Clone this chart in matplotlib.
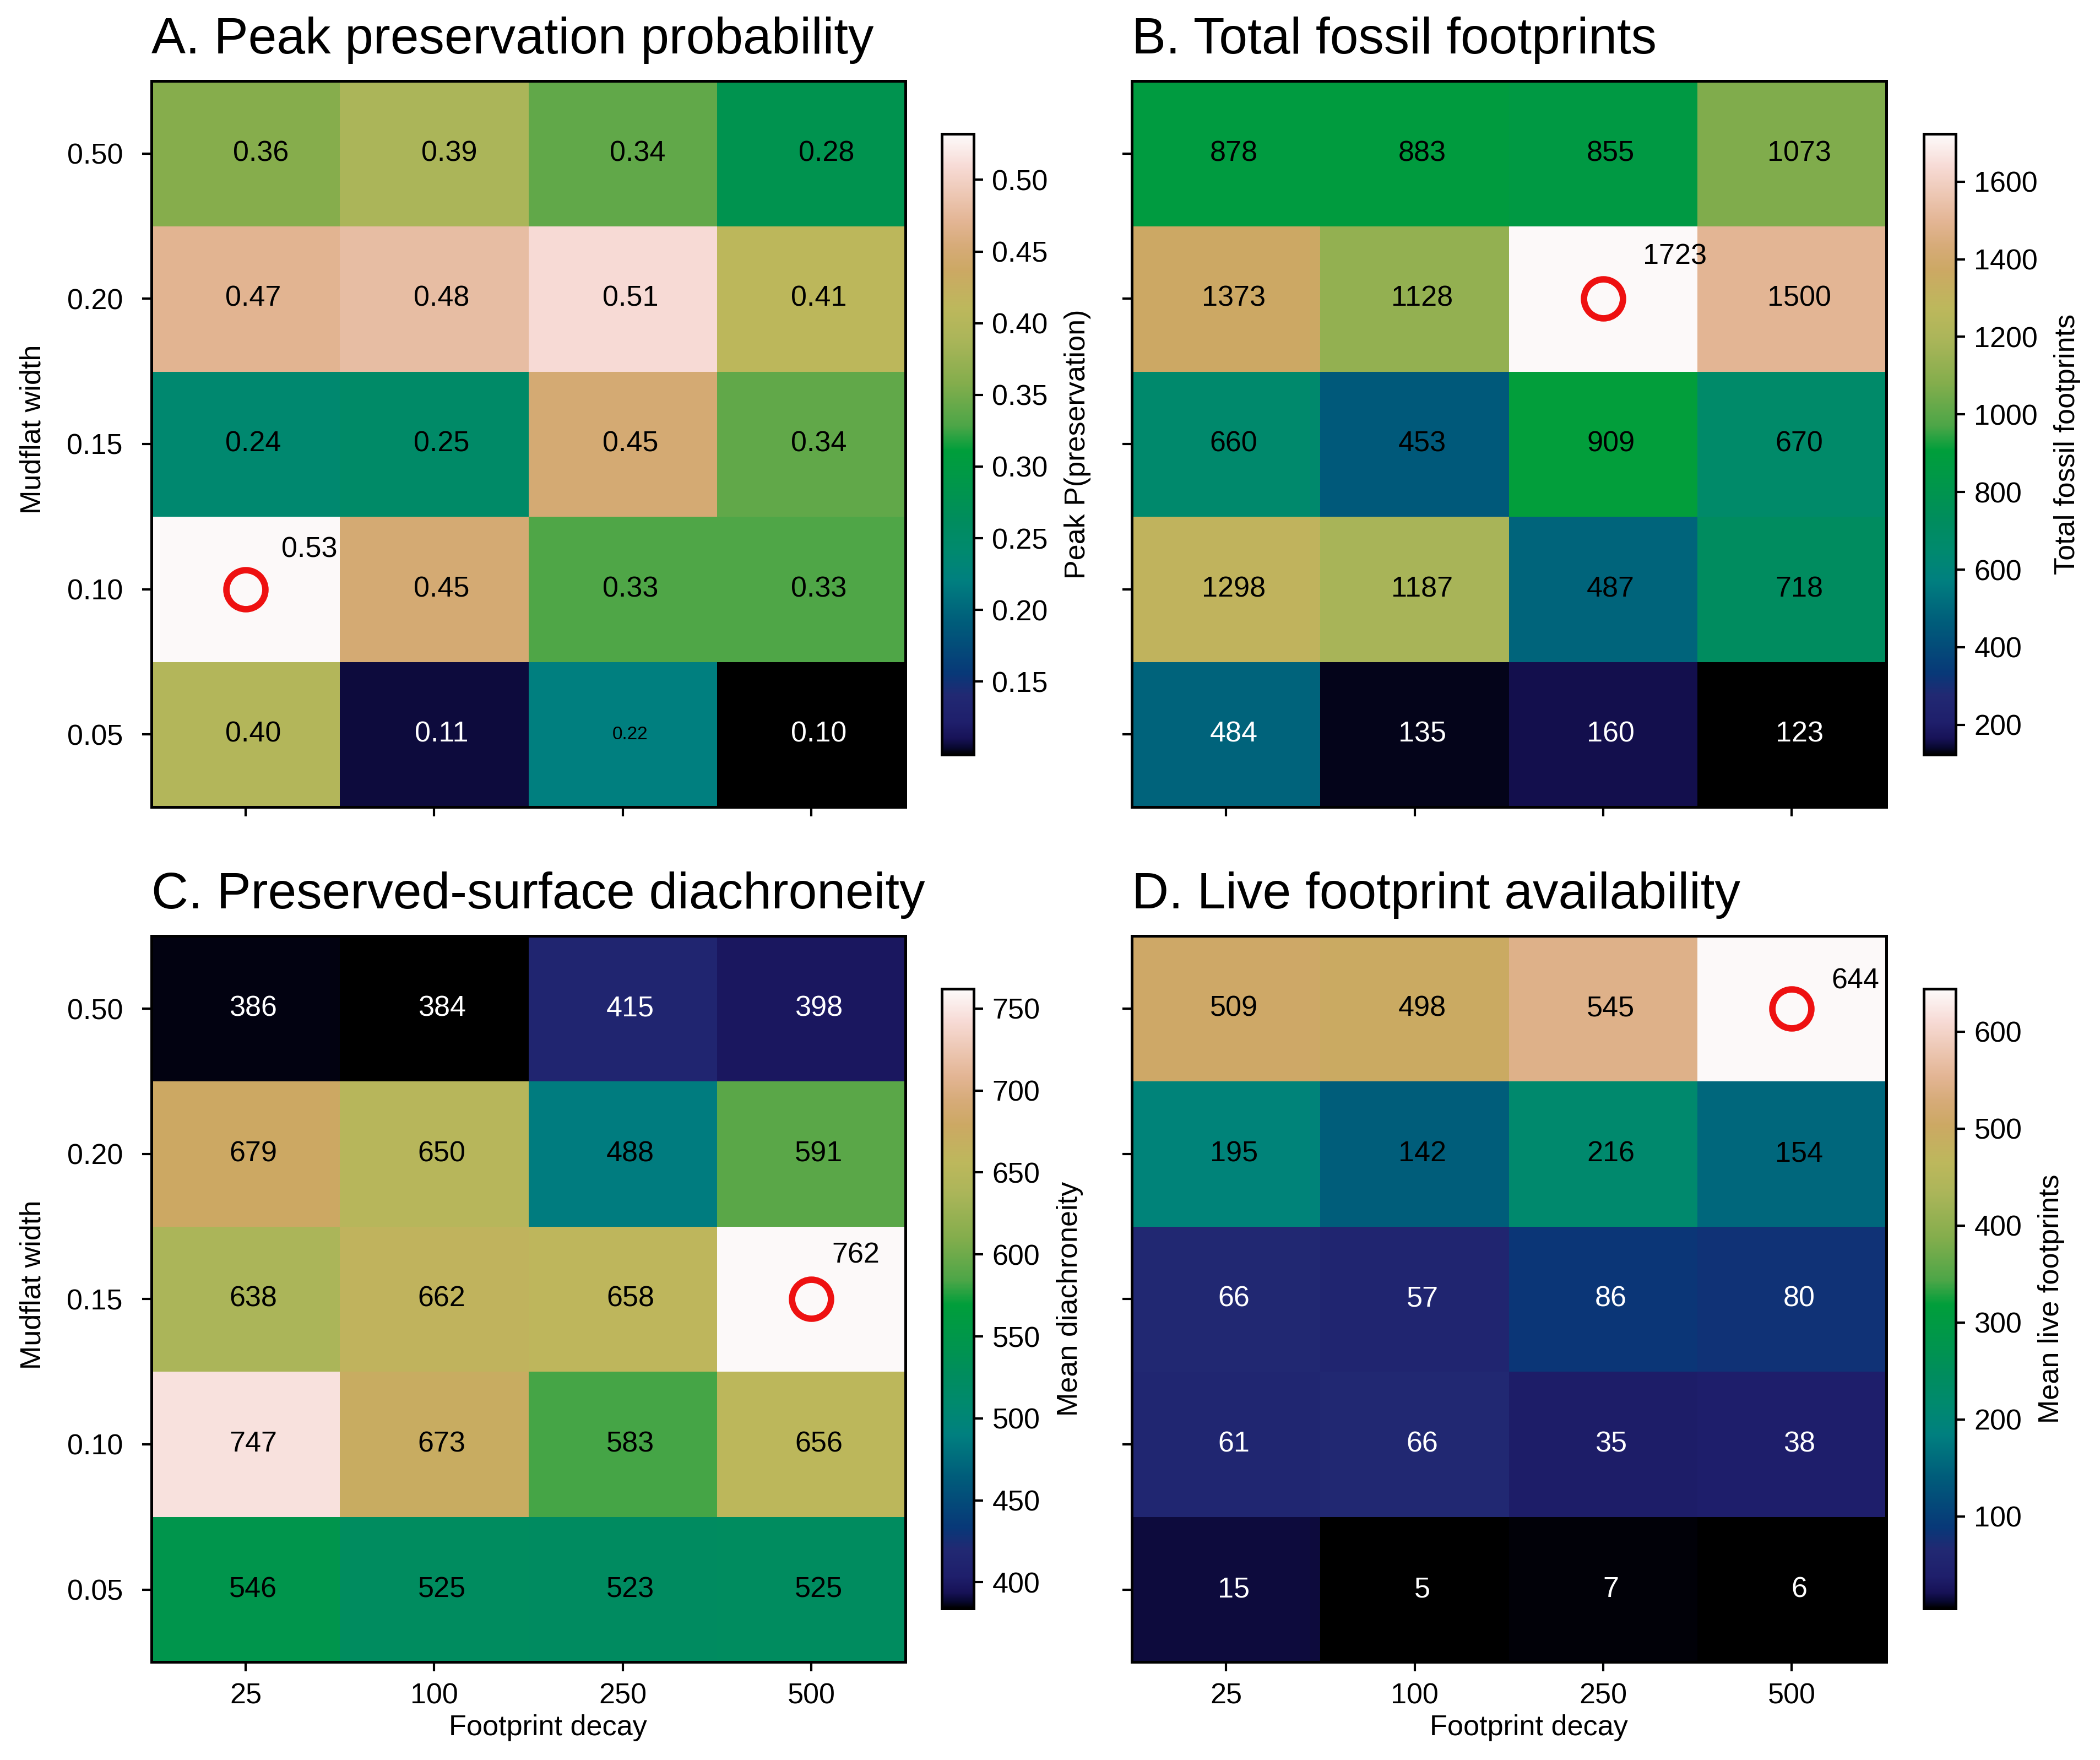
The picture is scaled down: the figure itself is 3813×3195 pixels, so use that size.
"""Four-panel heatmap grid: mudflat width vs footprint decay."""
import matplotlib
matplotlib.use("Agg")
import matplotlib.pyplot as plt
import numpy as np
from matplotlib.colors import LinearSegmentedColormap

plt.rcParams["font.family"] = ["Liberation Sans", "DejaVu Sans"]

widths = [0.05, 0.10, 0.15, 0.20, 0.50]
decays = [25, 100, 250, 500]

# rows follow `widths` (bottom -> top), columns follow `decays`
peak_p = [
    [0.40, 0.106, 0.22, 0.099],
    [0.532, 0.45, 0.33, 0.33],
    [0.24, 0.25, 0.45, 0.34],
    [0.47, 0.48, 0.51, 0.41],
    [0.36, 0.39, 0.34, 0.28],
]
total_fossil = [
    [484, 135, 160, 123],
    [1298, 1187, 487, 718],
    [660, 453, 909, 670],
    [1373, 1128, 1723, 1500],
    [878, 883, 855, 1073],
]
diachroneity = [
    [546, 525, 523, 525],
    [747, 673, 583, 656],
    [638, 662, 658, 762],
    [679, 650, 488, 591],
    [386, 384, 415, 398],
]
live_fp = [
    [15, 5, 7, 6],
    [61, 66, 35, 38],
    [66, 57, 86, 80],
    [195, 142, 216, 154],
    [509, 498, 545, 644],
]

cb_ticks = {
    "A": [0.15, 0.20, 0.25, 0.30, 0.35, 0.40, 0.45, 0.50],
    "B": [200, 400, 600, 800, 1000, 1200, 1400, 1600],
    "C": [400, 450, 500, 550, 600, 650, 700, 750],
    "D": [100, 200, 300, 400, 500, 600],
}

# (row, col) of cells labelled in white
white_cells = {
    "A": [(0, 1), (0, 3)],
    "B": [(0, 0), (0, 1), (0, 2), (0, 3)],
    "C": [(4, 0), (4, 1), (4, 2), (4, 3)],
    "D": [(r, c) for r in range(3) for c in range(4)],
}
small_cells = {"A": [(0, 2)]}

panels = [
    ("A", "A. Peak preservation probability", peak_p, "Peak P(preservation)", "{:.2f}"),
    ("B", "B. Total fossil footprints", total_fossil, "Total fossil footprints", "{:.0f}"),
    ("C", "C. Preserved-surface diachroneity", diachroneity, "Mean diachroneity", "{:.0f}"),
    ("D", "D. Live footprint availability", live_fp, "Mean live footprints", "{:.0f}"),
]

# earth-like map, a more saturated take on gist_earth
earth = LinearSegmentedColormap.from_list("earth_sat", [
    (0.000, (0.00, 0.00, 0.00)),
    (0.010, (0.03, 0.03, 0.18)),
    (0.025, (0.09, 0.07, 0.34)),
    (0.050, (0.12, 0.12, 0.42)),
    (0.095, (0.13, 0.16, 0.45)),
    (0.130, (0.03, 0.22, 0.47)),
    (0.210, (0.00, 0.36, 0.48)),
    (0.280, (0.00, 0.50, 0.50)),
    (0.330, (0.00, 0.54, 0.43)),
    (0.375, (0.00, 0.55, 0.37)),
    (0.420, (0.00, 0.58, 0.31)),
    (0.490, (0.00, 0.62, 0.23)),
    (0.530, (0.30, 0.65, 0.28)),
    (0.600, (0.52, 0.68, 0.30)),
    (0.670, (0.67, 0.71, 0.35)),
    (0.720, (0.74, 0.72, 0.36)),
    (0.780, (0.80, 0.66, 0.39)),
    (0.820, (0.84, 0.67, 0.47)),
    (0.860, (0.89, 0.71, 0.58)),
    (0.950, (0.97, 0.86, 0.84)),
    (1.000, (0.99, 0.98, 0.98)),
], N=512)

# axes boxes in figure fractions
ax_boxes = {
    "A": [0.0721, 0.5415, 0.359, 0.4125],
    "B": [0.5389, 0.5415, 0.359, 0.4125],
    "C": [0.0721, 0.0556, 0.359, 0.4125],
    "D": [0.5389, 0.0556, 0.359, 0.4125],
}
cb_boxes = {
    "A": [0.4483, 0.5712, 0.0153, 0.3527],
    "B": [0.9158, 0.5712, 0.0153, 0.3527],
    "C": [0.4483, 0.0861, 0.0153, 0.3520],
    "D": [0.9158, 0.0861, 0.0153, 0.3520],
}
max_offset = {"A": (0.19, 0.27), "B": (0.21, 0.29), "C": (0.11, 0.30), "D": (0.21, 0.19)}
# cell labels sit a little right of the cell centre in the original
text_shift = {"A": [0.04, 0.04, 0.04, 0.04, 0.08]}

fig = plt.figure(figsize=(12.713, 10.65), dpi=300)

for key, title, values, cb_label, fmt in panels:
    data = np.array(values, dtype=float)
    ax = fig.add_axes(ax_boxes[key])
    im = ax.imshow(data, cmap=earth, origin="lower", aspect="auto",
                   vmin=data.min(), vmax=data.max())

    rmax, cmax = np.unravel_index(np.argmax(data), data.shape)
    for r in range(data.shape[0]):
        shift = text_shift.get(key, [0.04] * 5)[r]
        for c in range(data.shape[1]):
            label = fmt.format(data[r, c])
            if (r, c) == (rmax, cmax):
                ax.plot(c, r, "o", ms=17, mfc="none", mec="#ee1111", mew=2.8)
                dx, dy = max_offset[key]
                ax.text(c + dx, r + dy, label, ha="left", va="center",
                        fontsize=12.5, color="black")
                continue
            color = "white" if (r, c) in white_cells[key] else "black"
            size = 8 if (r, c) in small_cells.get(key, []) else 12.5
            ax.text(c + shift, r, label, ha="center", va="center",
                    fontsize=size, color=color)

    ax.set_xticks(range(len(decays)))
    ax.set_yticks(range(len(widths)))
    ax.set_yticklabels([f"{w:.2f}" for w in widths])
    ax.set_xticklabels([str(d) for d in decays])
    ax.tick_params(labelsize=12.5, length=4, width=1)
    ax.tick_params(axis="y", pad=8.5)
    ax.tick_params(axis="x", pad=5)
    if key in ("A", "B"):
        ax.tick_params(axis="x", labelbottom=False)
    else:
        ax.set_xlabel("Footprint decay", fontsize=12.5)
        ax.xaxis.set_label_coords(0.526, -0.072)
    if key in ("B", "D"):
        ax.tick_params(axis="y", labelleft=False)
    else:
        ax.set_ylabel("Mudflat width", fontsize=12.5)
        ax.yaxis.set_label_coords(-0.139, 0.52)
    for sp in ax.spines.values():
        sp.set_linewidth(1.2)
    ax.set_title(title, loc="left", fontsize=22.3, pad=12)

    cax = fig.add_axes(cb_boxes[key])
    cb = fig.colorbar(im, cax=cax)
    cb.set_ticks(cb_ticks[key])
    if key == "A":
        cb.set_ticklabels([f"{t:.2f}" for t in cb_ticks[key]])
    cb.ax.tick_params(labelsize=12.5, length=4, width=1, pad=4)
    cb.outline.set_linewidth(1.2)
    cb.set_label(cb_label, fontsize=12.5, labelpad=7)

fig.savefig("out.png", dpi=300)
